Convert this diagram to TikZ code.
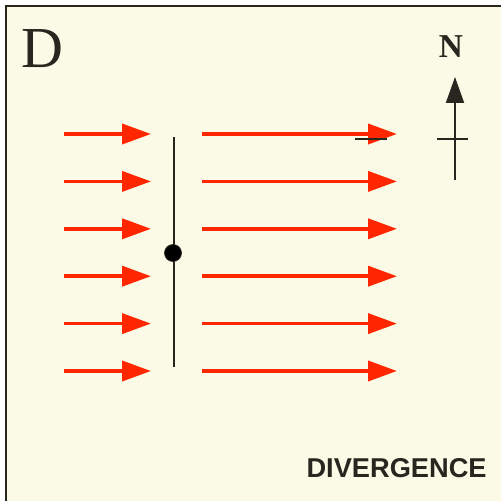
\documentclass[tikz,border=0pt]{standalone}
\usepackage{fontspec}
\setmainfont{Liberation Serif}
\newfontfamily\labelfont{Liberation Sans}
\usepackage{xcolor}
\usetikzlibrary{arrows.meta, positioning}
\definecolor{paper}{RGB}{251,250,231}
\definecolor{flow}{RGB}{255,38,0}
\definecolor{ink}{RGB}{40,38,30}

\begin{document}
\begin{tikzpicture}[
            x=0.02cm, y=-0.02cm,
            flowarrow/.style={line width=2.1pt, draw=flow, -{Triangle[length=0.58cm, width=0.40cm]}},
            fault/.style={ink, line width=1.5pt},
            tick/.style={ink, line width=1.1pt}
        ]
            % frame
            \useasboundingbox (0,0) rectangle (501,501);
            \fill[white] (0,0) rectangle (501,501);
            \fill[paper] (6,6) rectangle (501,501);
            \draw[ink, line width=1.2pt] (501,6) -- (6,6) -- (6,501);

            \node[anchor=base west, inner sep=0, text=ink, font=\fontsize{33}{33}\selectfont] (panel) at (21,67) {D};

            % flow arrows, left and right of the fault
            \foreach \i in {0,...,5} {
                \coordinate (ls\i) at (64,134+47.4*\i);
                \coordinate (le\i) at (151,134+47.4*\i);
                \coordinate (rs\i) at (202,134+47.4*\i);
                \coordinate (re\i) at (397,134+47.4*\i);
                \draw[flowarrow] (ls\i) -- (le\i);
                \draw[flowarrow] (rs\i) -- (re\i);
            }

            % fault trace
            \coordinate (ftop) at (174,137);
            \coordinate (fbot) at (174,367);
            \draw[fault] (ftop) -- (fbot);
            \node[circle, fill=black, draw=ink, inner sep=0, minimum size=0.34cm] (pivot) at (173,253) {};

            % small tick on first arrow
            \coordinate (ta) at (355,139);
            \coordinate (tb) at (387,139);
            \draw[tick] (ta) -- (tb);

            % north arrow
            \node[anchor=base, inner sep=0, text=ink, font=\fontsize{19}{19}\selectfont\bfseries] (north) at (451,57) {N};
            \coordinate (nbot) at (455,180);
            \coordinate (ntip) at (455,77);
            \draw[tick, -{Triangle[length=0.52cm, width=0.36cm]}] (nbot) -- (ntip);
            \coordinate (cw) at (437,139);
            \coordinate (ce) at (468,139);
            \draw[tick] (cw) -- (ce);

            \node[anchor=base east, inner sep=0, text=ink, font=\labelfont\bfseries\fontsize{15.5}{15.5}\selectfont] (title) at (487,477) {DIVERGENCE};
        \end{tikzpicture}
\end{document}
